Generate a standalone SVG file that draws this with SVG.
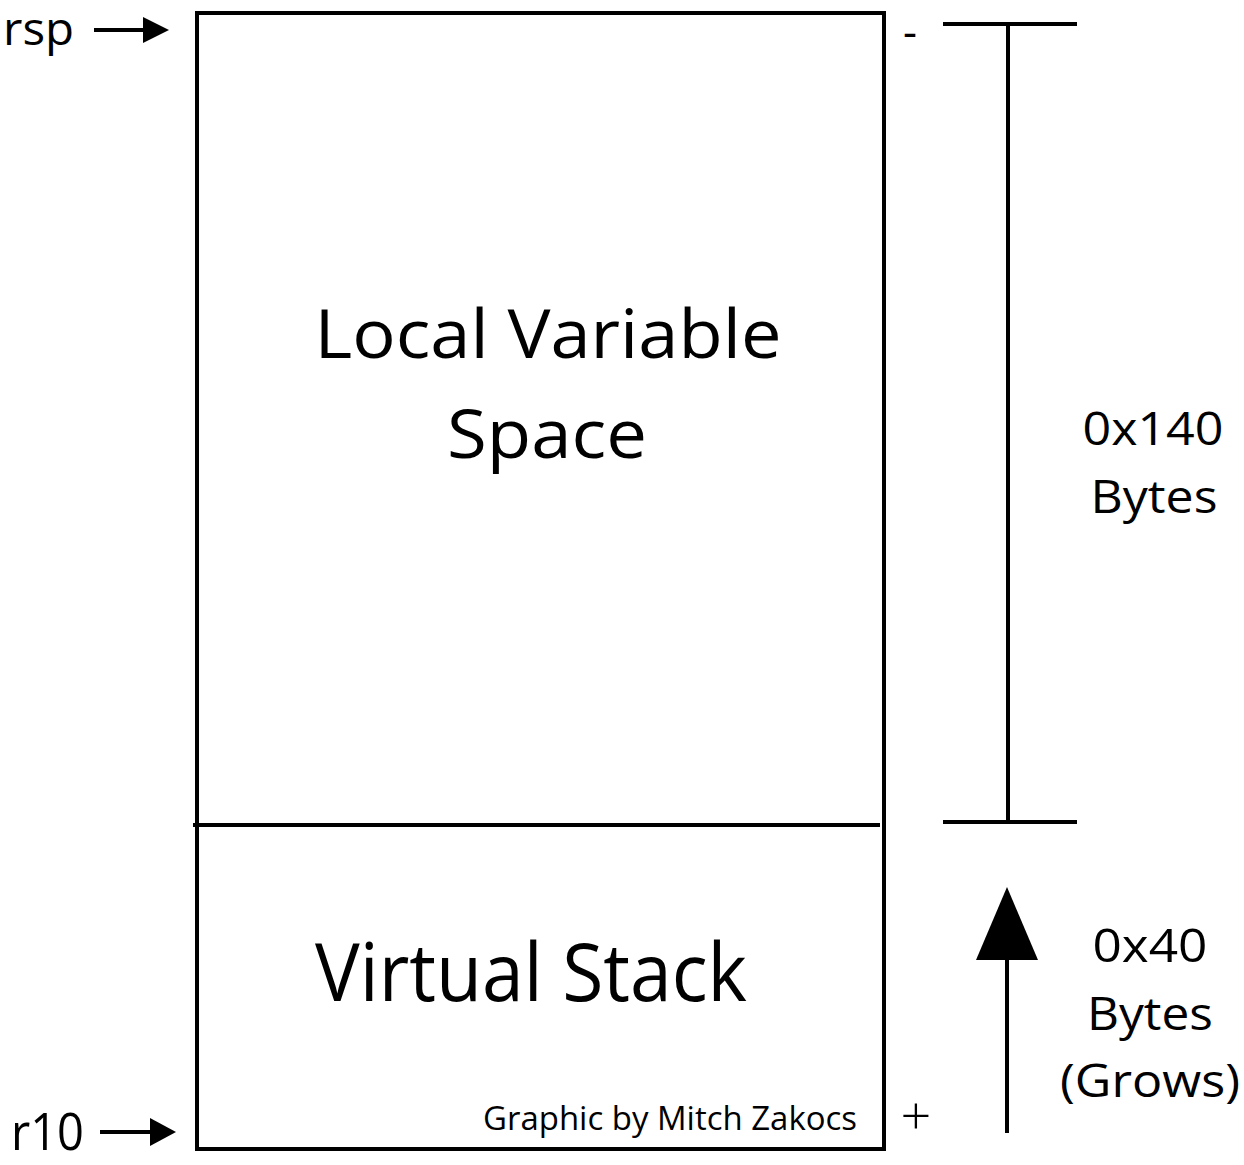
<svg xmlns="http://www.w3.org/2000/svg" width="1244" height="1165" viewBox="0 0 1244 1165">
<style>
text{font-family:"Open Sans","Noto Sans","Liberation Sans",sans-serif;fill:#000}
.ln{stroke:#000;stroke-width:4;fill:none}
.hd{fill:#000;stroke:none}
</style>
<rect width="1244" height="1165" fill="#fff"/>
<g id="stack-frame">
  <rect x="197" y="13" width="687" height="1136" class="ln"/>
</g>
<g id="local-variable-space">
  <text x="548" y="358" font-size="67" text-anchor="middle" textLength="467" lengthAdjust="spacingAndGlyphs">Local Variable</text>
  <text x="547" y="458" font-size="67" text-anchor="middle" textLength="200" lengthAdjust="spacingAndGlyphs">Space</text>
</g>
<g id="virtual-stack">
  <line x1="193" y1="825" x2="880" y2="825" class="ln"/>
  <text x="531" y="1001" font-size="80" text-anchor="middle" textLength="432" lengthAdjust="spacingAndGlyphs">Virtual Stack</text>
  <text x="670" y="1130" font-size="32" text-anchor="middle" textLength="374" lengthAdjust="spacingAndGlyphs">Graphic by Mitch Zakocs</text>
</g>
<g id="rsp-label">
  <text x="3" y="45" font-size="46" textLength="71" lengthAdjust="spacingAndGlyphs">rsp</text>
</g>
<g id="r10-label">
  <text x="11" y="1150" font-size="52" textLength="73" lengthAdjust="spacingAndGlyphs">r10</text>
</g>
<g id="minus-sign">
  <text x="910" y="47" font-size="44" text-anchor="middle" textLength="14" lengthAdjust="spacingAndGlyphs">-</text>
</g>
<g id="plus-sign">
  <text x="916" y="1135" font-size="54" text-anchor="middle" font-weight="300">+</text>
</g>
<g id="size-0x140">
  <text x="1153" y="445" font-size="45" text-anchor="middle" textLength="141" lengthAdjust="spacingAndGlyphs">0x140</text>
  <text x="1154" y="513" font-size="45" text-anchor="middle" textLength="127" lengthAdjust="spacingAndGlyphs">Bytes</text>
</g>
<g id="size-0x40">
  <text x="1150" y="962" font-size="45" text-anchor="middle" textLength="115" lengthAdjust="spacingAndGlyphs">0x40</text>
  <text x="1150" y="1030" font-size="45" text-anchor="middle" textLength="126" lengthAdjust="spacingAndGlyphs">Bytes</text>
  <text x="1150" y="1097" font-size="45" text-anchor="middle" textLength="180" lengthAdjust="spacingAndGlyphs">(Grows)</text>
</g>
<g id="connectors">
  <line x1="94" y1="30" x2="146" y2="30" class="ln"/>
  <polygon points="143,17 169,30 143,43" class="hd"/>
  <line x1="100" y1="1132" x2="152" y2="1132" class="ln"/>
  <polygon points="150,1118 176,1132 150,1146" class="hd"/>
  <line x1="943" y1="24" x2="1077" y2="24" class="ln"/>
  <line x1="1008" y1="24" x2="1008" y2="822" class="ln"/>
  <line x1="943" y1="822" x2="1077" y2="822" class="ln"/>
  <line x1="1007" y1="958" x2="1007" y2="1133" class="ln"/>
  <polygon points="1007,887 976,960 1038,960" class="hd"/>
</g>
</svg>
